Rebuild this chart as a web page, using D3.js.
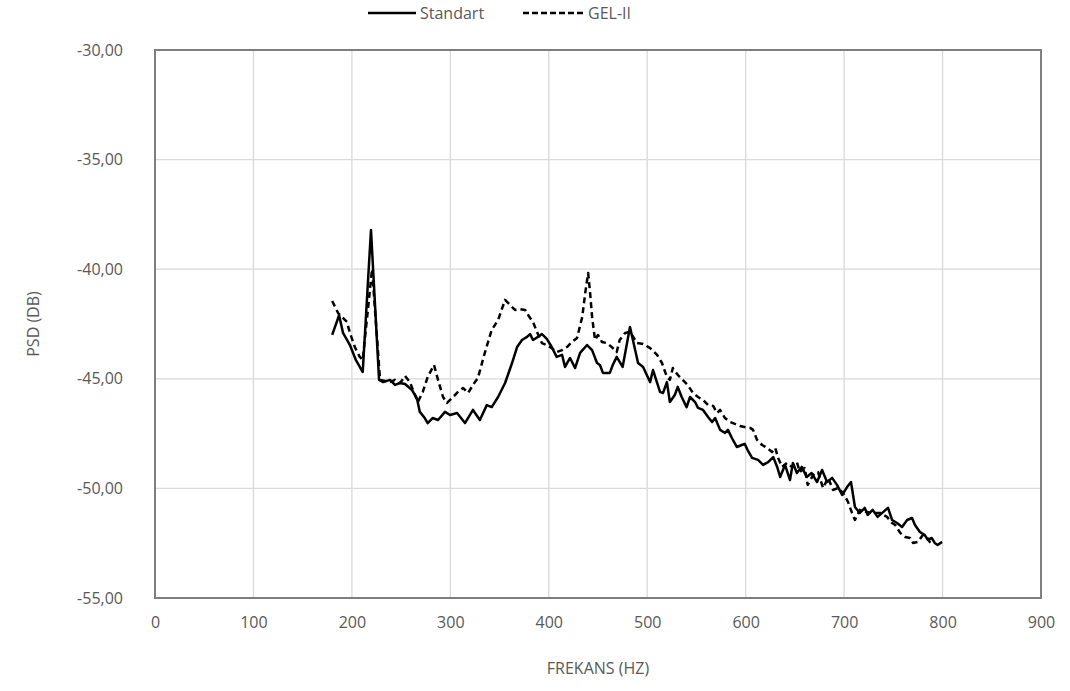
<!DOCTYPE html>
<html>
<head>
<meta charset="utf-8">
<script src="https://cdn.jsdelivr.net/npm/d3@7"></script>
<style>
  html, body { margin: 0; padding: 0; background: #fff; }
  svg { display: block; font-family: "Open Sans", "Noto Sans", sans-serif; }
</style>
</head>
<body>
<svg id="chart" width="1070" height="691"></svg>
<script>
// ---- Data ----
const seriesNames = ["Standart", "GEL-II"];

const freqStandart = [180,187,191,198,204,211,219.4,227.6,231.6,238.7,243.8,248.9,254,261,266,269,274,277,282,287.5,294.6,299.7,306.8,314.9,323,330,337,342,348.5,355.6,362.7,367.8,372.8,377.9,381,384,389,393,398,403,408,413.5,416.5,421.6,426.7,431.8,438.9,444,449,452,455,462,465,469,472,475,482.5,490.7,495.8,502.9,505.9,513,516,520,523,528,531,535,540,543.5,548.6,551.6,556.7,561.8,565.9,569,574,579,582,586,591,596,599,602,606.5,612.6,617.7,622.8,628,632,635,640,645,648,652,657,662,667,672.5,677.6,682.7,687.8,692.8,698,703,707,711,716,721,724,729,734,739.6,744.6,748.7,753.8,758.9,764,769,772,777,782,785,789,792,795,799.5];
const psdStandart = [-43.0,-42.1,-42.91,-43.46,-44.14,-44.69,-38.21,-45.05,-45.15,-45.05,-45.28,-45.19,-45.24,-45.51,-45.88,-46.51,-46.79,-47.02,-46.79,-46.88,-46.51,-46.65,-46.56,-47.02,-46.42,-46.88,-46.2,-46.29,-45.83,-45.19,-44.28,-43.55,-43.23,-43.09,-42.96,-43.23,-43.09,-42.96,-43.18,-43.55,-44.0,-43.91,-44.46,-44.05,-44.51,-43.82,-43.46,-43.69,-44.28,-44.37,-44.73,-44.73,-44.37,-44.0,-44.23,-44.46,-42.64,-44.28,-44.46,-45.15,-44.6,-45.6,-45.65,-45.15,-46.06,-45.74,-45.37,-45.83,-46.29,-45.83,-46.06,-46.33,-46.42,-46.74,-46.97,-46.79,-47.33,-47.47,-47.33,-47.7,-48.11,-48.02,-47.97,-48.25,-48.61,-48.7,-48.93,-48.8,-48.57,-49.02,-49.48,-48.93,-49.62,-48.84,-49.3,-49.02,-49.48,-49.3,-49.71,-49.16,-49.71,-49.52,-49.84,-50.3,-49.94,-49.71,-50.85,-51.12,-50.89,-51.21,-50.98,-51.3,-51.08,-50.89,-51.44,-51.58,-51.76,-51.44,-51.35,-51.67,-51.99,-52.13,-52.35,-52.26,-52.49,-52.58,-52.44];

const freqGel = [180,186,195,198,203,208,211,220.5,228.6,233.7,238.7,243.8,249,254,259,262,267,272,277,283.4,287.5,292.6,296.6,302.7,307.8,313,318,323,328,335,342,348.5,355.6,360.6,365.7,370.8,376,379,384,388,393,398,403,408,413.5,418.5,423.6,428.7,434,437,440,442,444,447,450,454,459,464,469,472,477.5,482.5,489.7,495.8,503,510,515,520,523,526,531,536,541,546.5,551.6,556.7,561.8,567,571,574,579,584,589,594,599,604.5,607.5,611.6,616.7,621.7,626.8,630,633,637,642,647,652,655,660,663,668.5,673.5,678.6,683.7,688.8,694,699,704,708,711,716,723,729,736.5,743.6,748.7,752,757,762,767,770,775,780,784,787,790];
const psdGel = [-41.45,-42.0,-42.41,-42.91,-43.55,-44.0,-44.14,-40.0,-45.05,-45.1,-45.15,-45.05,-45.19,-44.87,-45.15,-45.51,-46.06,-45.6,-44.92,-44.37,-45.05,-45.83,-46.1,-45.83,-45.6,-45.42,-45.65,-45.28,-44.96,-43.82,-42.77,-42.32,-41.4,-41.63,-41.86,-41.82,-41.86,-42.09,-42.41,-42.86,-43.37,-43.46,-43.6,-43.78,-43.69,-43.55,-43.32,-43.14,-42.18,-41.09,-40.17,-41.09,-42.18,-43.23,-43.0,-43.32,-43.37,-43.55,-43.78,-43.23,-42.91,-42.86,-43.37,-43.41,-43.6,-43.91,-44.28,-44.92,-45.05,-44.51,-44.82,-45.05,-45.28,-45.65,-45.83,-45.97,-46.2,-46.24,-46.56,-46.42,-46.79,-46.97,-47.06,-47.15,-47.2,-47.24,-47.33,-47.79,-48.02,-48.15,-48.34,-48.15,-48.61,-49.02,-48.84,-49.02,-48.8,-49.25,-49.07,-49.84,-49.39,-49.25,-49.98,-49.52,-50.07,-49.98,-50.21,-50.62,-51.12,-51.44,-50.98,-51.08,-51.12,-51.12,-51.3,-51.58,-51.67,-52.03,-52.22,-52.26,-52.49,-52.44,-52.13,-52.22,-52.44,-52.58];

const xTicks = [0,100,200,300,400,500,600,700,800,900];
const yTicks = [-30,-35,-40,-45,-50,-55];
const xTitle = "FREKANS (HZ)";
const yTitle = "PSD (DB)";

// ---- Layout ----
const svg = d3.select("#chart");
const pLeft = 155, pRight = 1041, pTop = 50, pBottom = 598;

const x = d3.scaleLinear().domain([0, 900]).range([pLeft, pRight]);
const y = d3.scaleLinear().domain([-55, -30]).range([pBottom, pTop]);

const fmt = v => v.toFixed(2).replace(".", ",");

// gridlines
svg.append("g").selectAll("line").data(xTicks.slice(1, -1)).join("line")
  .attr("x1", d => x(d)).attr("x2", d => x(d))
  .attr("y1", pTop).attr("y2", pBottom)
  .attr("stroke", "#d9d9d9").attr("stroke-width", 1.3);
svg.append("g").selectAll("line").data(yTicks.slice(1, -1)).join("line")
  .attr("x1", pLeft).attr("x2", pRight)
  .attr("y1", d => y(d)).attr("y2", d => y(d))
  .attr("stroke", "#d9d9d9").attr("stroke-width", 1.3);

// frame
svg.append("rect")
  .attr("x", pLeft).attr("y", pTop)
  .attr("width", pRight - pLeft).attr("height", pBottom - pTop)
  .attr("fill", "none").attr("stroke", "#7f7f7f").attr("stroke-width", 2);

// axes labels via d3 axes (lines hidden)
const xAxis = svg.append("g").attr("transform", `translate(0,${pBottom})`)
  .call(d3.axisBottom(x).tickValues(xTicks).tickSize(0).tickPadding(19).tickFormat(d3.format("d")));
xAxis.select(".domain").remove();
xAxis.selectAll("text").attr("font-size", 16).attr("fill", "#595959")
  .attr("font-family", "'Open Sans', sans-serif");

const yAxis = svg.append("g").attr("transform", `translate(${pLeft},0)`)
  .call(d3.axisLeft(y).tickValues(yTicks).tickSize(0).tickPadding(32).tickFormat(fmt));
yAxis.select(".domain").remove();
yAxis.selectAll("text").attr("font-size", 16).attr("fill", "#595959")
  .attr("font-family", "'Open Sans', sans-serif");

// titles
svg.append("text").attr("x", (pLeft + pRight) / 2).attr("y", 674)
  .attr("text-anchor", "middle").attr("font-size", 16).attr("fill", "#595959")
  .text(xTitle);
svg.append("text")
  .attr("transform", `translate(39,${(pTop + pBottom) / 2}) rotate(-90)`)
  .attr("text-anchor", "middle").attr("font-size", 16).attr("fill", "#595959")
  .text(yTitle);

// lines
const line = d3.line().x(d => x(d[0])).y(d => y(d[1]));
const stdData = freqStandart.map((f, i) => [f, psdStandart[i]]);
const gelData = freqGel.map((f, i) => [f, psdGel[i]]);

svg.append("path").datum(gelData).attr("d", line)
  .attr("fill", "none").attr("stroke", "#000").attr("stroke-width", 2.5)
  .attr("stroke-dasharray", "6,4").attr("stroke-linejoin", "round");
svg.append("path").datum(stdData).attr("d", line)
  .attr("fill", "none").attr("stroke", "#000").attr("stroke-width", 2.5)
  .attr("stroke-linejoin", "round");

// legend
const legend = svg.append("g");
const legItems = [
  { name: seriesNames[0], x0: 368, x1: 416, dash: null },
  { name: seriesNames[1], x0: 523, x1: 584, dash: "6,3" }
];
legItems.forEach(it => {
  legend.append("line").attr("x1", it.x0).attr("x2", it.x1).attr("y1", 13).attr("y2", 13)
    .attr("stroke", "#000").attr("stroke-width", 2.5)
    .attr("stroke-dasharray", it.dash);
  legend.append("text").attr("x", it.x1 + 4).attr("y", 19)
    .attr("font-size", 16).attr("fill", "#595959").text(it.name);
});
</script>
</body>
</html>
